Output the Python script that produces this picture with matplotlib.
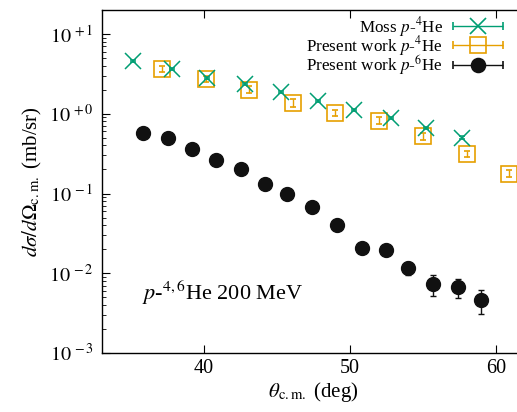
import numpy as np
import matplotlib
matplotlib.use("Agg")
import matplotlib.pyplot as plt
from matplotlib.legend_handler import HandlerErrorbar

plt.rcParams.update({
    "font.family": ["Liberation Serif", "DejaVu Serif"],
    "mathtext.fontset": "stix",
    "font.size": 13,
    "axes.linewidth": 1.0,
})

GREEN, ORANGE, BLACK = "#009e73", "#e69f00", "#111111"

# Moss p-4He
moss_theta = [35.1, 37.8, 40.2, 42.8, 45.3, 47.8, 50.3, 52.8, 55.2, 57.7]
moss_xs = [4.6, 3.65, 2.82, 2.37, 1.88, 1.45, 1.12, 0.89, 0.67, 0.50]
moss_err = [0.08, 0.07, 0.06, 0.05, 0.04, 0.03, 0.03, 0.02, 0.02, 0.02]

# present work p-4He
he4_theta = [37.1, 40.1, 43.1, 46.1, 49.0, 52.0, 55.0, 58.0, 60.9]
he4_xs = [3.65, 2.74, 2.0, 1.37, 1.03, 0.82, 0.52, 0.316, 0.178]
he4_err = [0.35, 0.25, 0.2, 0.14, 0.1, 0.08, 0.05, 0.03, 0.018]

# present work p-6He
he6_theta = [35.8, 37.5, 39.2, 40.8, 42.5, 44.2, 45.7, 47.4, 49.1, 50.8,
             52.5, 54.0, 55.7, 57.4, 59.0]
he6_xs = [0.58, 0.49, 0.365, 0.266, 0.20, 0.133, 0.10, 0.067, 0.040, 0.0205,
          0.0194, 0.0116, 0.0073, 0.0067, 0.0046]
he6_err = [0.01, 0.01, 0.008, 0.006, 0.005, 0.004, 0.003, 0.002, 0.0015, 0.0018,
           0.0018, 0.0022, 0.0021, 0.0018, 0.0015]

fig = plt.figure(figsize=(5.17, 4.12), dpi=100)
ax = fig.add_axes([102 / 517, 59 / 412, 423 / 517, 343 / 412])

ax.errorbar(moss_theta, moss_xs, yerr=moss_err, fmt="x", color=GREEN, ms=12,
            mew=1.1, capsize=2, elinewidth=1.0, zorder=3)
ax.errorbar(he4_theta, he4_xs, yerr=he4_err, fmt="s", color=ORANGE, ms=11.5,
            mfc="none", mew=1.2, capsize=2.5, elinewidth=1.0, zorder=2)
ax.errorbar(he6_theta, he6_xs, yerr=he6_err, fmt="o", color=BLACK, ms=10,
            capsize=2.5, elinewidth=1.0, zorder=4)

ax.set_yscale("log")
ax.set_xlim(33, 62)
ax.set_ylim(1e-3, 20)
ax.set_xticks([40, 50, 60])
ax.set_yticks([1e1, 1e0, 1e-1, 1e-2, 1e-3])
ax.set_yticklabels([r"$10^{\,+1}$", r"$10^{\,+0}$", r"$10^{\,-1}$",
                    r"$10^{\,-2}$", r"$10^{\,-3}$"])
ax.tick_params(which="both", direction="in", top=True, right=True)
ax.tick_params(which="major", length=6, labelsize=14.5, pad=6)
ax.tick_params(axis="x", which="major", pad=4)
ax.tick_params(which="minor", length=3)
ax.tick_params(axis="x", which="minor", top=False, bottom=False)

ax.set_xlabel(r"$\theta_{\rm c.m.}$ (deg)", fontsize=15, labelpad=2)
ax.set_ylabel(r"$d\sigma/d\Omega_{\rm c.m.}$ (mb/sr)", fontsize=15, labelpad=4)
ax.text(142 / 517, 1 - 293 / 412, r"$p$-$^{4,6}$He 200 MeV", transform=fig.transFigure,
        fontsize=16, va="center", ha="left")

# legend proxies with horizontal bars like the original key
hs = []
for c, m, mfc, ms in [(GREEN, "x", GREEN, 12), (ORANGE, "s", "none", 11.5), (BLACK, "o", BLACK, 10)]:
    hs.append(ax.errorbar([np.nan], [np.nan], xerr=[1], fmt=m, color=c, ms=ms,
                          mfc=mfc, mew=1.2, capsize=3, elinewidth=1.0))
leg = fig.legend(hs, [r"Moss $p$-$^4$He", r"Present work $p$-$^4$He",
                      r"Present work $p$-$^6$He"],
                 loc="upper right", bbox_to_anchor=(512 / 517, 1 - 6 / 412),
                 frameon=False, markerfirst=False, fontsize=12.3,
                 handlelength=2.95, handletextpad=0.6, labelspacing=-0.28,
                 borderpad=0.0,
                 handler_map={type(hs[0]): HandlerErrorbar(xerr_size=1.47)})

fig.savefig("out.png", dpi=100)
